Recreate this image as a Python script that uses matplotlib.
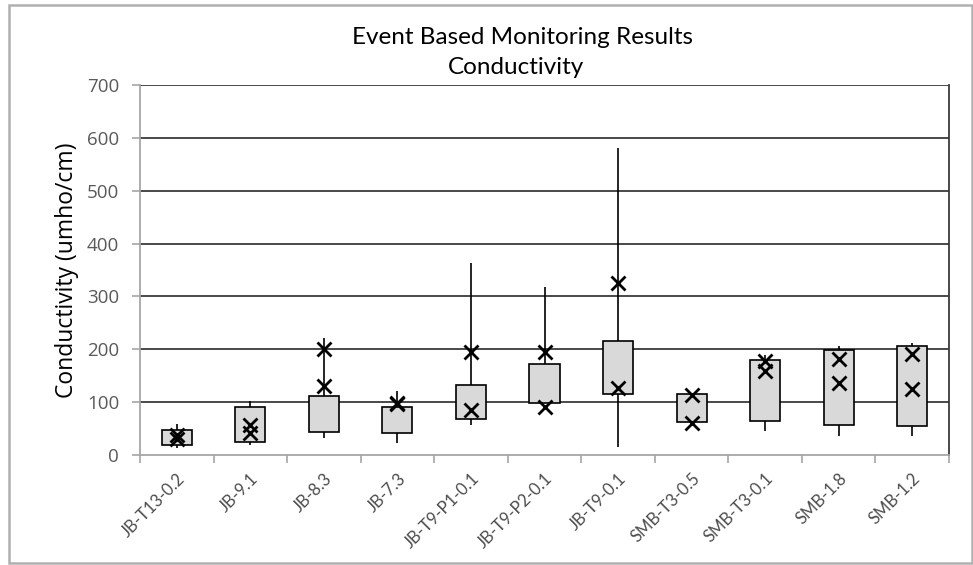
import matplotlib
matplotlib.use("Agg")
import matplotlib.pyplot as plt
from matplotlib.patches import Rectangle
import numpy as np

# Sampling sites along the x axis
sites = ["JB-T13-0.2", "JB-9.1", "JB-8.3", "JB-7.3", "JB-T9-P1-0.1",
         "JB-T9-P2-0.1", "JB-T9-0.1", "SMB-T3-0.5", "SMB-T3-0.1",
         "SMB-1.8", "SMB-1.2"]

# Box extents (lower / upper quartile), umho/cm
box_low = [18, 25, 43, 41, 68, 98, 115, 62, 64, 56, 54]
box_high = [47, 90, 112, 90, 132, 173, 216, 115, 180, 199, 207]

# Whisker extents (min / max), umho/cm
whisker_min = [13, 19, 33, 22, 57, 98, 16, 62, 45, 36, 36]
whisker_max = [59, 103, 221, 121, 363, 318, 581, 115, 189, 206, 212]

# Individual event results marked with crosses
event_a = [37, 57, 200, 98, 194, 194, 326, 113, 177, 181, 192]
event_b = [31, 42, 130, 96, 86, 91, 126, 60, 158, 137, 124]

yticks = [0, 100, 200, 300, 400, 500, 600, 700]

fig = plt.figure(figsize=(9.73, 5.65), dpi=100)
ax = fig.add_axes([140 / 973, 1 - 455 / 565, 809 / 973, 370 / 565])

# outer chart frame
fig.patches.append(Rectangle((9 / 973, 1 - 563 / 565), 963 / 973, 558 / 565,
                             transform=fig.transFigure, fill=False,
                             edgecolor="#b0b0b0", lw=1.8, zorder=0))

x = np.arange(len(sites))
ax.set_xlim(-0.5, len(sites) - 0.5)
ax.set_ylim(0, 700)

# gridlines
for t in yticks[1:]:
    ax.axhline(t, color="#3a3a3a", lw=1.3, zorder=1)

# whiskers
ax.vlines(x, whisker_min, whisker_max, color="black", lw=1.2, zorder=2)

# boxes
heights = [h - l for h, l in zip(box_high, box_low)]
ax.bar(x, heights, bottom=box_low, width=0.41, color="#d9d9d9",
       edgecolor="black", linewidth=1.2, zorder=3)

# event crosses
ax.plot(x, event_a, linestyle="none", marker="x", ms=10, mew=2.0,
        color="black", zorder=4)
ax.plot(x, event_b, linestyle="none", marker="x", ms=10, mew=2.0,
        color="black", zorder=4)

# axes styling
ax.spines["top"].set_visible(False)
ax.spines["right"].set_color("#3a3a3a")
ax.spines["right"].set_linewidth(1.3)
ax.spines["left"].set_color("#a6a6a6")
ax.spines["left"].set_linewidth(1.3)
ax.spines["bottom"].set_color("#a6a6a6")
ax.spines["bottom"].set_linewidth(1.3)

ax.set_yticks(yticks)
ax.set_yticklabels([str(t) for t in yticks], fontfamily="Open Sans",
                   fontsize=13.5, color="#595959")
ax.tick_params(axis="y", direction="out", length=6, width=1.2,
               color="#a6a6a6", pad=9)

ax.set_xticks(x)
ax.set_xticklabels(sites, rotation=45, ha="right", rotation_mode="anchor",
                   fontfamily="Lato", fontsize=12, color="#4d4d4d")
ax.tick_params(axis="x", which="major", length=0, pad=11)
ax.set_xticks(np.arange(-0.5, len(sites)), minor=True)
ax.tick_params(axis="x", which="minor", direction="out", length=6,
               width=1.2, color="#a6a6a6")

ax.set_ylabel("Conductivity (umho/cm)", fontfamily="Open Sans",
              fontsize=16.5, color="black", labelpad=6)

fig.text(522 / 973, 1 - 37 / 565, "Event Based Monitoring Results",
         ha="center", va="center", fontfamily="Lato", fontsize=17.5,
         color="black")
fig.text(516 / 973, 1 - 67 / 565, "Conductivity",
         ha="center", va="center", fontfamily="Lato", fontsize=17.5,
         color="black")

fig.savefig("out.png", dpi=100)
